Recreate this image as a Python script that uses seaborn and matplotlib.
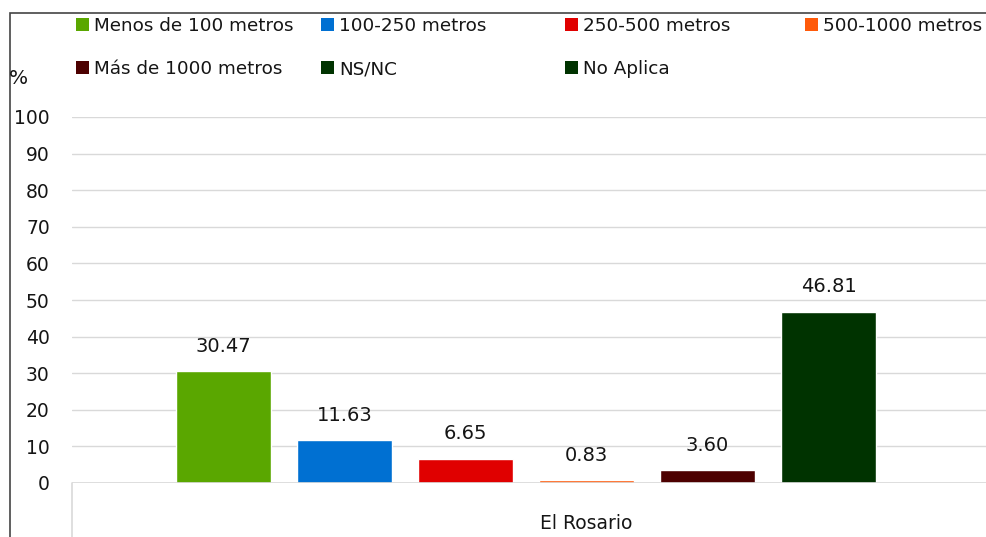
import numpy as np
import pandas as pd
import matplotlib
matplotlib.use("Agg")
import matplotlib.pyplot as plt
from matplotlib.patches import Patch, Rectangle
import seaborn as sns

# datos
categoria = ["El Rosario"]
series = ["Menos de 100 metros", "100-250 metros", "250-500 metros",
          "500-1000 metros", "Más de 1000 metros", "NS/NC", "No Aplica"]
valores = [30.47, 11.63, 6.65, 0.83, 3.60, 46.81, np.nan]
colores = ["#5AA700", "#0070D2", "#E00000", "#FF5A0A", "#4D0000", "#003300", "#003300"]
yticks = [0, 10, 20, 30, 40, 50, 60, 70, 80, 90, 100]

sns.set_theme(style="white")
plt.rcParams["font.family"] = ["DejaVu Sans"]
txt = "#151515"

df = pd.DataFrame({"zona": categoria * len(series), "serie": series, "pct": valores})
paleta = dict(zip(series, colores))

W, H = 987, 537
fig = plt.figure(figsize=(W / 100, H / 100), dpi=100)
fig.patch.set_facecolor("white")

# ejes: el grafico original esta recortado por la derecha
ax = fig.add_axes([72 / W, (H - 483) / H, 1044 / W, 366 / H])
sns.barplot(data=df, x="zona", y="pct", hue="serie", hue_order=series,
            palette=paleta, width=0.8, gap=0.215, saturation=1,
            legend=False, ax=ax)

ax.set_ylim(0, 100)
ax.set_xlim(-0.486, 0.5)
ax.set_yticks(yticks)
ax.set_yticklabels([str(t) for t in yticks], fontsize=13.5, color=txt)
ax.tick_params(axis="y", length=0, pad=16)
ax.tick_params(axis="x", length=0, pad=22, labelsize=13.5, labelcolor=txt)
ax.set_xlabel("")
ax.set_ylabel("")
ax.grid(axis="y", color="#D9D9D9", linewidth=1)
ax.set_axisbelow(True)
for s in ax.spines.values():
    s.set_visible(False)
ax.axhline(0, color="#D9D9D9", linewidth=1.2, zorder=1)
ax.plot([0, 0], [0, -0.2], transform=ax.transAxes, color="#D9D9D9",
        linewidth=1.2, clip_on=False)

# etiquetas de datos
for cont in ax.containers:
    ax.bar_label(cont, fmt="%.2f", padding=11, fontsize=14, color=txt)

fig.text(9 / W, 1 - 79 / H, "%", fontsize=14.5, color=txt, va="center")

# leyenda en 4 columnas iguales
cols = [[0, 4], [1, 5], [2, 6], [3]]
xs = [72, 317, 561, 801]
for x0, idx in zip(xs, cols):
    handles = [Patch(facecolor=paleta[series[i]], edgecolor="none") for i in idx]
    fig.legend(handles, [series[i] for i in idx], loc="upper left",
               bbox_to_anchor=(x0 / W, 1 - 13 / H), frameon=False,
               fontsize=13.2, handlelength=0.72, handleheight=0.72,
               handletextpad=0.3, labelspacing=1.4, borderaxespad=0,
               borderpad=0.2, labelcolor=txt)

# marco exterior recortado
fig.add_artist(Rectangle((10 / W, -0.1), 1.2, 1 - 13 / H + 0.1,
                         transform=fig.transFigure, fill=False,
                         edgecolor="#444444", linewidth=1.2))

fig.savefig("out.png", dpi=100, facecolor="white")
